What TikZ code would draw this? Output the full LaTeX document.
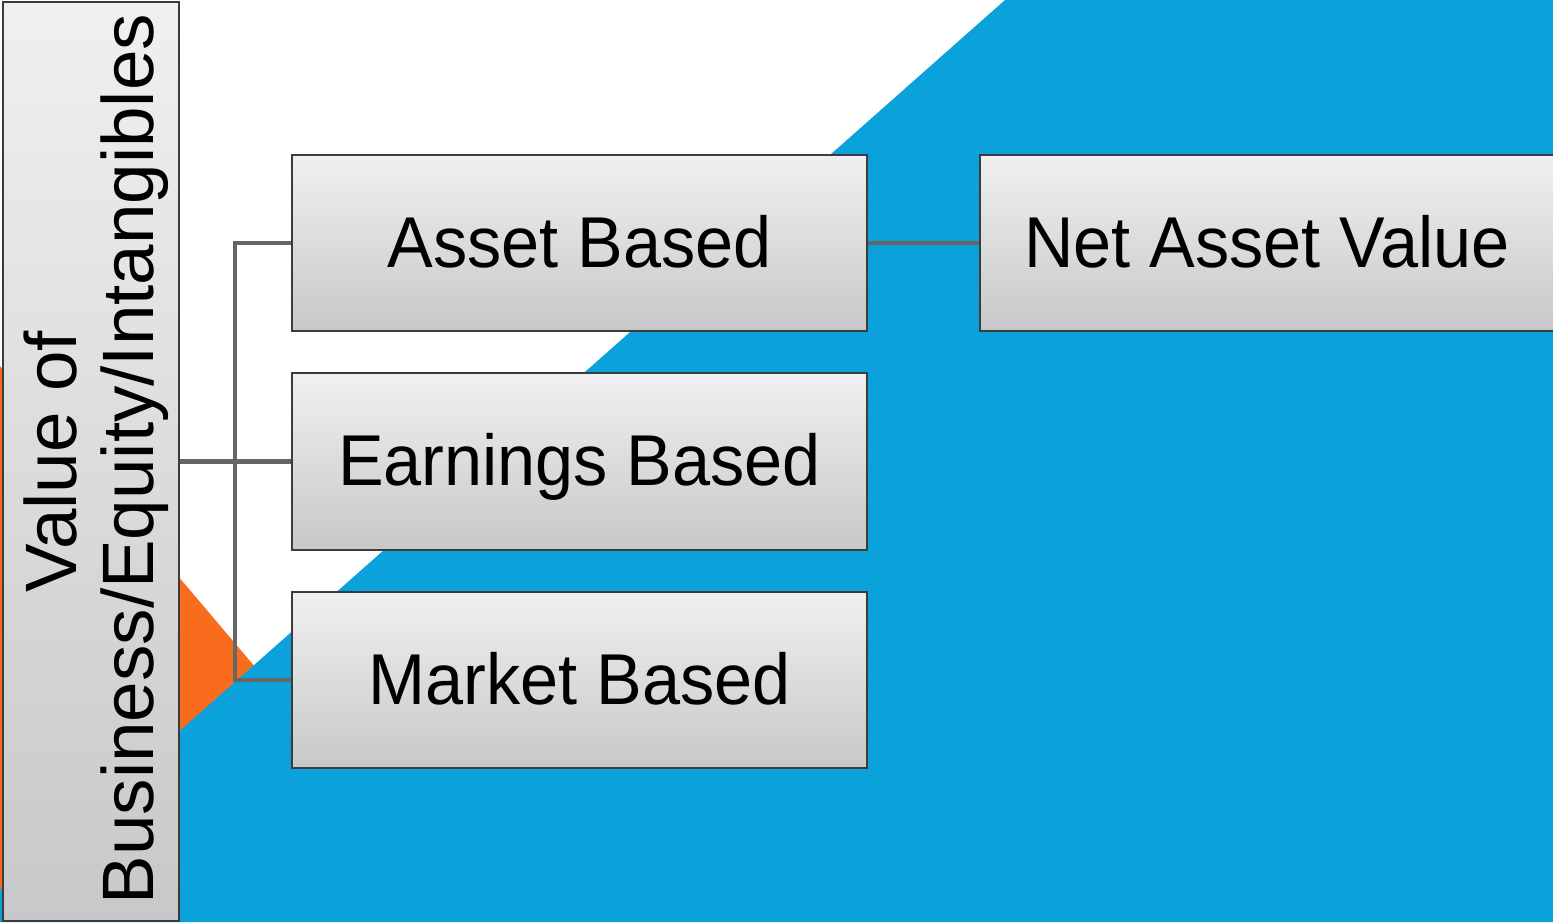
\documentclass[tikz,border=0pt]{standalone}
\usepackage{fontspec}
\setmainfont{Liberation Sans}
\newfontfamily\boxfont[FakeStretch=0.95]{Liberation Sans}
\definecolor{bgblue}{RGB}{11,162,219}
\definecolor{bgorange}{RGB}{249,108,30}
\definecolor{conncol}{RGB}{102,102,102}
\definecolor{boxtop}{RGB}{240,240,242}
\definecolor{boxbot}{RGB}{199,200,202}
\definecolor{boxline}{RGB}{60,60,60}
\begin{document}
\begin{tikzpicture}[x=1pt,y=-1pt,
  gbox/.style={rectangle, draw=boxline, line width=1.3pt, top color=boxtop, bottom color=boxbot,
    inner sep=0pt, text height=48pt, text depth=0pt, font=\boxfont\fontsize{72}{80}\selectfont},
  conn/.style={draw=conncol, line width=4.5pt},
  vtext/.style={rotate=90, anchor=base, inner sep=0pt, font=\fontsize{72.8}{80}\selectfont}]
\useasboundingbox (0,0) rectangle (1553,922);
% background
\fill[bgorange] (0,366) -- (300,720) -- (0,922) -- cycle;
\fill[bgblue] (1005,0) -- (1553,0) -- (1553,922) -- (0,922) -- (0,890) -- cycle;
% nodes
\node[gbox, text height=0pt, minimum width=176pt, minimum height=919pt] (root) at (91,461.5) {};
\node[vtext] (rootA) at (76,462) {Value of};
\node[vtext] (rootB) at (153,459) {Business/Equity/Intangibles};
\coordinate (bus) at (235,461.5);
% connectors
\draw[conn] (root.east) -- (bus) -- (292,461.5);
\draw[conn] (292,243) -| (bus) |- (292,680);
\draw[conn] (867,243) -- (980,243);
\node[gbox, minimum width=575pt, minimum height=176pt] (asset) at (579.5,243) {Asset Based};
\node[gbox, minimum width=575pt, minimum height=177pt] (earn) at (579.5,461.5) {Earnings Based};
\node[gbox, minimum width=575pt, minimum height=176pt] (market) at (579.5,680) {Market Based};
\node[gbox, minimum width=585pt, minimum height=176pt] (nav) at (1272.5,243) {};
\node[inner sep=0pt, text height=48pt, text depth=0pt, font=\boxfont\fontsize{72}{80}\selectfont] (navtext) at (1267,243) {Net Asset Value};
\end{tikzpicture}
\end{document}
